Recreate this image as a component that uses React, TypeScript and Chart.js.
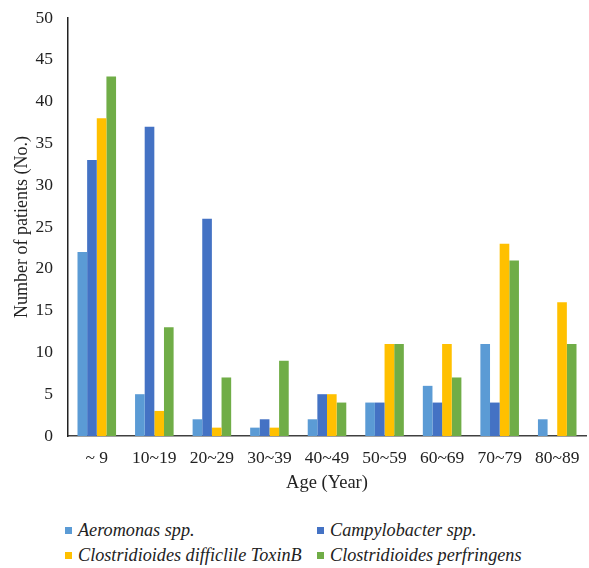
import React, { useEffect, useRef } from "react";
import { Chart, registerables } from "chart.js";

Chart.register(...registerables);

const categories = ["~ 9", "10~19", "20~29", "30~39", "40~49", "50~59", "60~69", "70~79", "80~89"];
const seriesNames = [
  "Aeromonas spp.",
  "Campylobacter spp.",
  "Clostridioides difficlile ToxinB",
  "Clostridioides perfringens",
];
const aeromonas = [22, 5, 2, 1, 2, 4, 6, 11, 2];
const campylobacter = [33, 37, 26, 2, 5, 4, 4, 4, 0];
const difficile = [38, 3, 1, 1, 5, 11, 11, 23, 16];
const perfringens = [43, 13, 7, 9, 4, 11, 7, 21, 11];
const colors = ["#5B9BD5", "#4472C4", "#FFC000", "#70AD47"];
const yTicks = [0, 5, 10, 15, 20, 25, 30, 35, 40, 45, 50];

const FONT = "'Liberation Serif', 'Times New Roman', serif";

export default function App() {
  const ref = useRef<HTMLCanvasElement>(null);
  useEffect(() => {
    if (!ref.current) return;
    const values = [aeromonas, campylobacter, difficile, perfringens];
    const chart = new Chart(ref.current, {
      type: "bar",
      data: {
        labels: categories,
        datasets: values.map((v, i) => ({
          label: seriesNames[i],
          data: v,
          backgroundColor: colors[i],
          borderWidth: 0,
          barPercentage: 1,
          categoryPercentage: 0.67,
        })),
      },
      options: {
        responsive: false,
        animation: false,
        devicePixelRatio: 1,
        layout: { padding: { top: 18, right: 3, bottom: 6, left: 11 } },
        plugins: { legend: { display: false }, tooltip: { enabled: false } },
        scales: {
          x: {
            afterFit: (scale: any) => {
              scale.height = 58;
              scale.paddingRight = 0;
              scale.paddingLeft = 0;
            },
            grid: { display: false, drawTicks: false },
            border: { display: true, color: "#404040", width: 1.5 },
            ticks: { color: "#222", font: { family: FONT, size: 17.5 }, padding: 12, maxRotation: 0, autoSkip: false },
            title: { display: true, text: "Age (Year)", color: "#222", font: { family: FONT, size: 18.5 }, padding: { top: 4, bottom: 0 } },
          },
          y: {
            min: 0,
            max: 50,
            afterFit: (scale: any) => {
              scale.width = 57;
              scale.paddingTop = 0;
              scale.paddingBottom = 0;
            },
            afterBuildTicks: (axis: any) => {
              axis.ticks = yTicks.map((v) => ({ value: v }));
            },
            grid: { display: false, drawTicks: false },
            border: { display: true, color: "#222", width: 1.5 },
            ticks: { color: "#222", font: { family: FONT, size: 17.5 }, padding: 15 },
            title: { display: true, text: "Number of patients (No.)", color: "#222", font: { family: FONT, size: 18 }, padding: { top: 0, bottom: 2 } },
          },
        },
      },
    });
    return () => chart.destroy();
  }, []);

  return (
    <div style={{ position: "fixed", left: 0, top: 0, width: 589, height: 568, background: "#fff" }}>
      <canvas ref={ref} width={589} height={500} style={{ display: "block" }} />
      <div
        style={{
          position: "absolute",
          left: 65,
          top: 518,
          display: "grid",
          gridTemplateColumns: "252px 260px",
          fontFamily: FONT,
          fontStyle: "italic",
          fontSize: 18.2,
          color: "#222",
        }}
      >
        {seriesNames.map((n, i) => (
          <div key={n} style={{ display: "flex", alignItems: "center", whiteSpace: "nowrap", height: 25, lineHeight: "25px" }}>
            <span style={{ display: "inline-block", width: 7, height: 7, background: colors[i], marginRight: 6, flex: "none" }} />
            {n}
          </div>
        ))}
      </div>
    </div>
  );
}
